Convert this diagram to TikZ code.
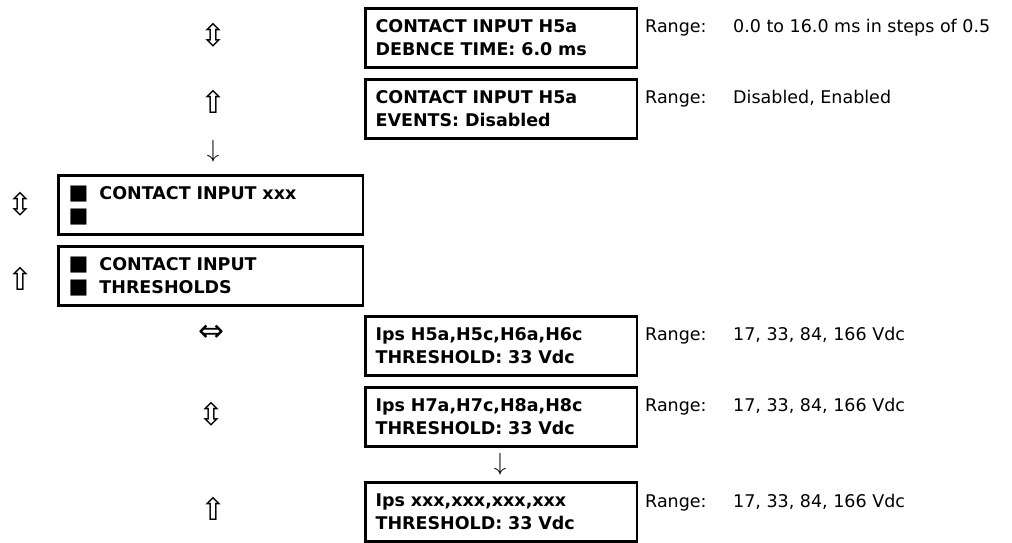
\documentclass[tikz,border=0pt]{standalone}
\usepackage{fontspec}
\setmainfont{DejaVu Sans}
\usepackage{tikz}
\usetikzlibrary{positioning}
\newcommand{\blt}{{\fontsize{21}{23}\selectfont■}}
\tikzset{
  menubox/.style={draw, line width=2.6pt, anchor=north west, minimum height=59pt, inner xsep=10pt, inner ysep=0pt, align=left, font=\bfseries\fontsize{17.5}{23}\selectfont},
  setbox/.style={menubox, text width=251.4pt},
  grpbox/.style={menubox, text width=284.4pt},
  rangetxt/.style={anchor=base west, inner sep=0pt, font=\fontsize{17.5}{21}\selectfont},
  navarrow/.style={inner sep=0pt, font=\fontsize{31}{31}\selectfont},
  morearrow/.style={inner sep=0pt, font=\fontsize{25}{25}\selectfont}
}

\begin{document}
\begin{tikzpicture}[x=1pt, y=-1pt]
  \useasboundingbox (0,0) rectangle (1012,542);
  % Setting boxes
  \node[setbox] (debnce) at (364.3,7.3) {CONTACT INPUT H5a\\DEBNCE TIME: 6.0 ms};
  \node[setbox] (events) at (364.3,78.3) {CONTACT INPUT H5a\\EVENTS: Disabled};
  % Menu headings
  \node[grpbox] (cixxx) at (57.3,174.3) {\blt\hspace{11pt}CONTACT INPUT xxx\\\blt};
  \node[grpbox] (thresh) at (57.3,245.3) {\blt\hspace{11pt}CONTACT INPUT\\\blt\hspace{11pt}THRESHOLDS};
  % Threshold boxes
  \node[setbox] (ipsA) at (364.3,315.3) {Ips H5a,H5c,H6a,H6c\\THRESHOLD: 33 Vdc};
  \node[setbox] (ipsB) at (364.3,386.3) {Ips H7a,H7c,H8a,H8c\\THRESHOLD: 33 Vdc};
  \node[setbox] (ipsX) at (364.3,481.3) {Ips xxx,xxx,xxx,xxx\\THRESHOLD: 33 Vdc};
  % Ranges
  \node[rangetxt] (rdebnce) at (645,32) {\makebox[88pt][l]{Range:}0.0 to 16.0 ms in steps of 0.5};
  \node[rangetxt] (revents) at (645,103) {\makebox[88pt][l]{Range:}Disabled, Enabled};
  \node[rangetxt] (ripsA) at (645,340) {\makebox[88pt][l]{Range:}17, 33, 84, 166 Vdc};
  \node[rangetxt] (ripsB) at (645,411) {\makebox[88pt][l]{Range:}17, 33, 84, 166 Vdc};
  \node[rangetxt] (ripsX) at (645,507) {\makebox[88pt][l]{Range:}17, 33, 84, 166 Vdc};
  % Navigation arrows
  \node[navarrow] (navdebnce) at (213,35) {⇳};
  \node[navarrow] (navevents) at (213,102) {⇧};
  \node[morearrow] (navmore) at (213,151) {$\downarrow$};
  \node[navarrow] (navcixxx) at (20,204) {⇳};
  \node[navarrow] (navthresh) at (20,279) {⇧};
  \node[navarrow] (navipsA) at (211,333) {⇔};
  \node[navarrow] (navipsB) at (211,414) {⇳};
  \node[morearrow] (navipsmore) at (500,464) {$\downarrow$};
  \node[navarrow] (navipsX) at (213,509) {⇧};
\end{tikzpicture}
\end{document}
